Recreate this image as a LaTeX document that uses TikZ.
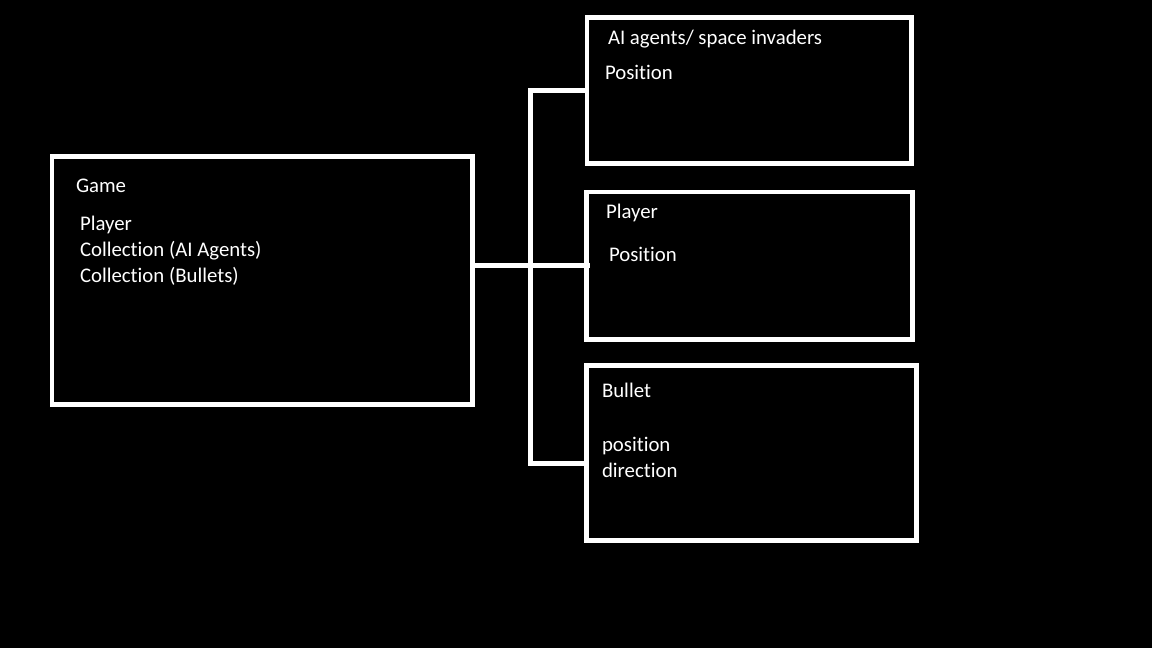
\documentclass[tikz,border=0pt]{standalone}
\usepackage{fontspec}
\setmainfont{Carlito}[Ligatures=NoCommon]
\usepackage{tikz}
\usetikzlibrary{arrows,positioning}
\tikzset{
	umlnode/.style = {inner sep=0pt, outer sep=0pt, white},
	uml_box/.style = {umlnode, rectangle, draw=white, line width=2.3pt},% classe, cadre
	uml_txt/.style = {umlnode, anchor=base west, font=\fontsize{10.4pt}{13pt}\selectfont},% classe, texte
	uml_lnk/.style = {draw=white, line width=2.3pt}% lien
}
\begin{document}
\begin{tikzpicture}[x=0.5pt, y=-0.5pt]
\fill[black] (0,0) rectangle (1152,648);
\useasboundingbox (0,0) rectangle (1152,648);
% classes
\node [uml_box, minimum width=210.25pt, minimum height=124pt] (game) at (262.25,280.5) {};
\node [uml_box, minimum width=162.25pt, minimum height=73pt] (agents) at (749.25,90.5) {};
\node [uml_box, minimum width=163pt, minimum height=73.75pt] (player) at (749.5,265.75) {};
\node [uml_box, minimum width=165pt, minimum height=87.5pt] (bullet) at (751.5,453) {};
% textes
\node [uml_txt] (gameT) at (76,192) {Game};
\node [uml_txt] (gameA) at (80,230) {Player};
\node [uml_txt] (gameB) at (80,256) {Collection (AI Agents)};
\node [uml_txt] (gameC) at (80,282) {Collection (Bullets)};
\node [uml_txt] (agentsT) at (608,44.5) {AI agents/ space invaders};
\node [uml_txt] (agentsA) at (605,79.5) {Position};
\node [uml_txt] (playerT) at (606,218.5) {Player};
\node [uml_txt] (playerA) at (609,261) {Position};
\node [uml_txt] (bulletT) at (602,397) {Bullet};
\node [uml_txt] (bulletA) at (602,451.5) {position};
\node [uml_txt] (bulletB) at (602,477) {direction};
% liens
\coordinate (trunk) at (530.5,265.5);
\draw [uml_lnk] (game.east |- player.west) -- ([xshift=1.75pt]player.west);
\draw [uml_lnk] (agents.west) -- (agents.west -| trunk) -- ([yshift=-5.25pt]bullet.west -| trunk) -- ([yshift=-5.25pt]bullet.west);
\end{tikzpicture}
\end{document}
